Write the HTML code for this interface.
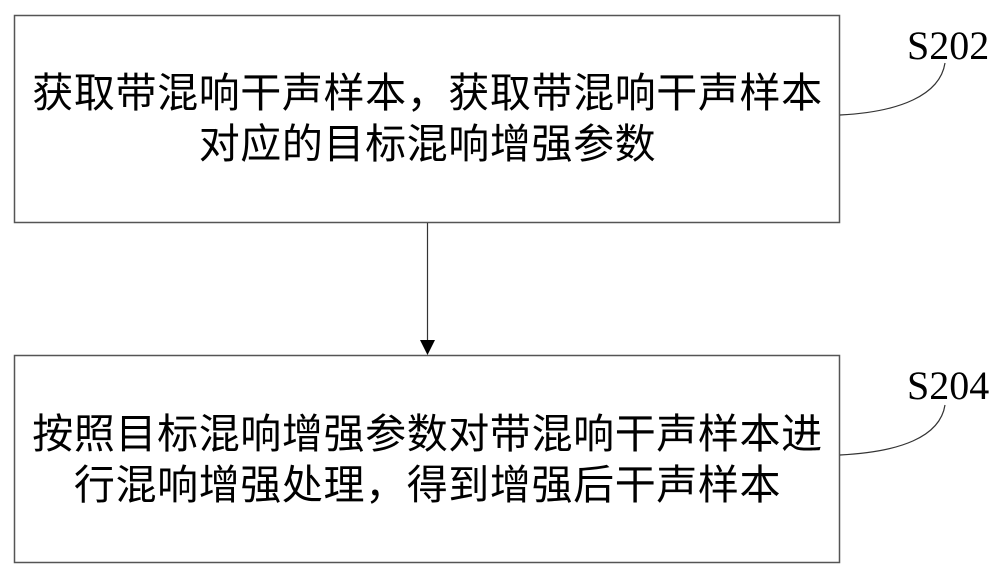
<!DOCTYPE html>
<html><head><meta charset="utf-8"><style>
html,body{margin:0;padding:0;background:#fff;}
body{width:1000px;height:573px;position:relative;overflow:hidden;}
.t{position:absolute;left:14px;width:827px;text-align:center;font-family:"Liberation Sans","Noto Sans CJK SC","WenQuanYi Zen Hei",sans-serif;font-size:41px;line-height:51px;color:#000;letter-spacing:0.6px;}
.l{position:absolute;font-family:"Liberation Serif",serif;font-size:40px;color:#000;line-height:40px;}
</style></head><body>
<svg width="1000" height="573" style="position:absolute;left:0;top:0">
<rect x="14.5" y="15.5" width="825" height="207" fill="none" stroke="#555" stroke-width="1.5"/>
<rect x="14.5" y="355.5" width="825" height="207" fill="none" stroke="#555" stroke-width="1.5"/>
<line x1="427.5" y1="223" x2="427.5" y2="342" stroke="#333" stroke-width="1.2"/>
<polygon points="420,340 435,340 427.5,355" fill="#000"/>
<path d="M840,115 C900,112 940,95 945,63" fill="none" stroke="#333" stroke-width="1.2"/>
<path d="M840,455 C900,452 940,437 945,405" fill="none" stroke="#333" stroke-width="1.2"/>
</svg>
<div class="t" style="top:68px">获取带混响干声样本，获取带混响干声样本<br>对应的目标混响增强参数</div>
<div class="t" style="top:409px">按照目标混响增强参数对带混响干声样本进<br>行混响增强处理，得到增强后干声样本</div>
<div class="l" style="left:907px;top:26px">S202</div>
<div class="l" style="left:907px;top:366px">S204</div>
</body></html>
